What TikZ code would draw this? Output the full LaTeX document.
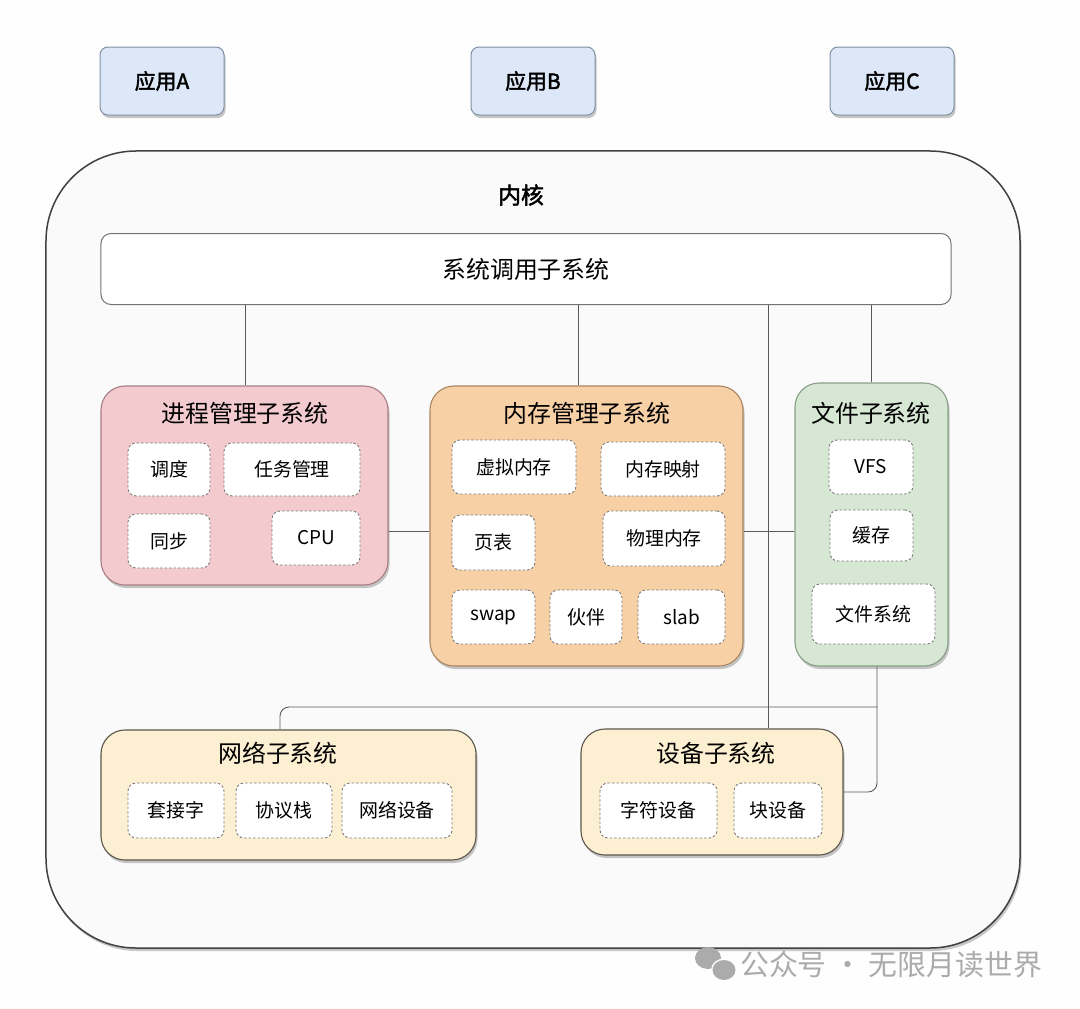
\documentclass[tikz,border=0pt]{standalone}
\usepackage{fontspec}
\setmainfont{Noto Sans CJK SC}[AutoFakeBold=2]
\usetikzlibrary{shadows}
\definecolor{bgc}{HTML}{FEFEFE}
\definecolor{kerc}{HTML}{FAFAFA}
\definecolor{appfill}{HTML}{DCE8F7}
\definecolor{appdraw}{HTML}{8090A4}
\definecolor{procfill}{HTML}{F3CBCF}
\definecolor{procdraw}{HTML}{A67E84}
\definecolor{memfill}{HTML}{F8D0A6}
\definecolor{memdraw}{HTML}{A98660}
\definecolor{filefill}{HTML}{D6E8D4}
\definecolor{filedraw}{HTML}{889E86}
\definecolor{yelfill}{HTML}{FDEFD2}
\definecolor{yeldraw}{HTML}{5C564C}
\definecolor{itemdraw}{HTML}{7A7A7A}
\definecolor{linec}{HTML}{5A5A5A}
\definecolor{wmc}{HTML}{ABABAB}
\tikzset{
  shd/.style={drop shadow={shadow xshift=1.5bp, shadow yshift=-3bp, opacity=0.22, fill=black}},
  appbox/.style={draw=appdraw, fill=appfill, line width=1bp, rounded corners=8bp, shd,
    minimum width=124bp, minimum height=68bp, font=\fontsize{21}{24}\selectfont\bfseries},
  subsys/.style={line width=1.1bp, rounded corners=24bp, shd},
  ttl/.style={font=\fontsize{24}{26}\selectfont, inner sep=0},
  item/.style={draw=itemdraw, dash pattern=on 2.5bp off 2bp, line width=0.9bp, fill=white,
    rounded corners=8bp, font=\fontsize{19}{21}\selectfont, inner sep=0},
  conn/.style={draw=linec, line width=0.9bp},
}
\begin{document}
\begin{tikzpicture}[x=1bp, y=-1bp]
\useasboundingbox (0,0) rectangle (1080,1009);
\fill[bgc] (0,0) rectangle (1080,1009);

% applications
\node[appbox] (appA) at (162,81) {应用A};
\node[appbox] (appB) at (533,81) {应用B};
\node[appbox] (appC) at (892,81) {应用C};

% kernel
\node[draw=black!75, fill=kerc, line width=1.5bp, rounded corners=90bp, shd,
  minimum width=974bp, minimum height=797bp] (kernel) at (533,549.5) {};
\node[font=\fontsize{23}{25}\selectfont\bfseries] (kerT) at (521,195) {内核};

% system call
\node[draw=black!55, fill=white, line width=1bp, rounded corners=10bp,
  minimum width=850bp, minimum height=71bp, font=\fontsize{24}{26}\selectfont] (sys) at (526,269) {系统调用子系统};

% process management
\node[subsys, draw=procdraw, fill=procfill, minimum width=287bp, minimum height=199bp] (proc) at (244.5,485.5) {};
\node[ttl] (procT) at (245,413) {进程管理子系统};
\node[item, minimum width=82bp, minimum height=53bp] (sched) at (169,469.5) {调度};
\node[item, minimum width=136bp, minimum height=53bp] (task) at (292,469.5) {任务管理};
\node[item, minimum width=82bp, minimum height=54bp] (sync) at (169,541) {同步};
\node[item, minimum width=88bp, minimum height=54bp] (cpu) at (316,538) {CPU};

% memory management
\node[subsys, draw=memdraw, fill=memfill, minimum width=313bp, minimum height=280bp] (mem) at (586.5,526) {};
\node[ttl] (memT) at (587,413) {内存管理子系统};
\node[item, minimum width=124bp, minimum height=54bp] (vmem) at (514,467) {虚拟内存};
\node[item, minimum width=124bp, minimum height=54bp] (mmap) at (663,469) {内存映射};
\node[item, minimum width=83bp, minimum height=55bp] (ptab) at (493.5,542.5) {页表};
\node[item, minimum width=122bp, minimum height=55bp] (pmem) at (664,538.5) {物理内存};
\node[item, minimum width=83bp, minimum height=54bp] (swap) at (493.5,617) {swap};
\node[item, minimum width=72bp, minimum height=54bp] (buddy) at (586,617) {伙伴};
\node[item, minimum width=87bp, minimum height=54bp] (slab) at (681.5,617) {slab};

% file subsystem
\node[subsys, draw=filedraw, fill=filefill, minimum width=153bp, minimum height=283bp] (file) at (871.5,524.5) {};
\node[ttl] (fileT) at (871,413) {文件子系统};
\node[item, minimum width=84bp, minimum height=54bp] (vfs) at (871,467) {VFS};
\node[item, minimum width=83bp, minimum height=51bp] (cache) at (871.5,535.5) {缓存};
\node[item, minimum width=123bp, minimum height=60bp] (fs) at (873.5,614) {文件系统};

% network subsystem
\node[subsys, draw=yeldraw, fill=yelfill, minimum width=375bp, minimum height=130bp] (net) at (288.5,795) {};
\node[ttl] (netT) at (278,753) {网络子系统};
\node[item, minimum width=96bp, minimum height=55bp] (sock) at (176,810.5) {套接字};
\node[item, minimum width=96bp, minimum height=55bp] (proto) at (284,810.5) {协议栈};
\node[item, minimum width=110bp, minimum height=55bp] (netdev) at (397,810.5) {网络设备};

% device subsystem
\node[subsys, draw=yeldraw, fill=yelfill, minimum width=262bp, minimum height=126bp] (dev) at (712,792) {};
\node[ttl] (devT) at (716,753) {设备子系统};
\node[item, minimum width=117bp, minimum height=55bp] (chardev) at (658.5,810.5) {字符设备};
\node[item, minimum width=88bp, minimum height=55bp] (blkdev) at (778,810.5) {块设备};

% helper coordinates
\coordinate (xproc) at (245,0);
\coordinate (xmem) at (578,0);
\coordinate (xdev) at (768,0);
\coordinate (xfile) at (877,0);
\coordinate (xnet) at (280,0);
\coordinate (yh) at (0,531);
\coordinate (jn) at (877,707);

% connectors
\draw[conn] (sys.south -| xproc) -- (proc.north -| xproc);
\draw[conn] (sys.south -| xmem) -- (mem.north -| xmem);
\draw[conn] (sys.south -| file.north) -- (file.north);
\draw[conn] (sys.south -| xdev) -- (dev.north -| xdev);
\draw[conn] (proc.east |- yh) -- (mem.west |- yh);
\draw[conn] (mem.east |- yh) -- (file.west |- yh);
\draw[conn, rounded corners=9bp] (file.south -| xfile) |- (dev.east);
\draw[conn, rounded corners=9bp] (net.north -| xnet) |- (jn);

% watermark
\fill[wmc] (708,958) ellipse (13bp and 11bp);
\fill[white] (724,970) ellipse (13bp and 11.5bp);
\fill[wmc] (724,970) ellipse (11.5bp and 10bp);
\node[text=wmc, font=\fontsize{29}{31}\selectfont, anchor=west, inner sep=0] (wm) at (740,965) {公众号 · 无限月读世界};
\end{tikzpicture}
\end{document}
